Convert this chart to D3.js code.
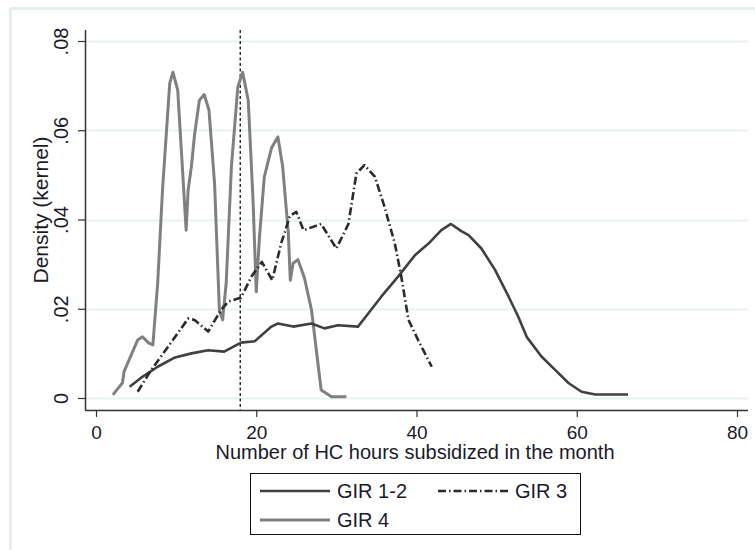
<!DOCTYPE html>
<html>
<head>
<meta charset="utf-8">
<script src="https://cdn.jsdelivr.net/npm/d3@7"></script>
<style>
  body { margin: 0; background: #fff; }
  svg { font-family: "Liberation Sans", Arial, sans-serif; }
</style>
</head>
<body>
<script>
// kernel density curves: [hours, density]
const gir12 = [
  [4.2, .0025], [5.6, .0045], [7.7, .007], [9.75, .009], [11.9, .010], [14, .0107],
  [16, .0104], [18.1, .0124], [19.8, .0127], [21.9, .016], [22.7, .0167], [24.6, .016],
  [26.9, .0167], [28.5, .0156], [30.2, .0163], [32.7, .016], [34, .019], [35.6, .0227],
  [37.7, .0272], [39.8, .032], [41.5, .0346], [43.1, .0376], [44.3, .039], [45.6, .0374],
  [46.5, .0365], [48.1, .0335], [49.8, .0287], [51.5, .0227], [52.7, .0182], [53.75, .0137],
  [55.6, .0093], [57.3, .0063], [59, .0033], [60.6, .0014], [62.3, .0008], [66.4, .0008]
];
const gir3 = [
  [5.2, .0014], [6.9, .0063], [9, .0115], [11.5, .0178], [12.3, .0175], [14, .0149],
  [15.6, .0197], [16.5, .0216], [18.1, .0225], [19.4, .0272], [20.7, .0305], [22, .0264],
  [23.1, .0346], [24.2, .0408], [25, .0417], [25.9, .0376], [28.1, .039], [30, .0335],
  [31.5, .039], [32.5, .0503], [33.5, .0522], [34.8, .0496], [36, .0429], [37.3, .0346],
  [38.1, .0272], [39, .0175], [40.2, .013], [41.9, .007]
];
const gir4 = [
  [2.1, .0007], [3.3, .0034], [3.5, .0059], [5.2, .013], [5.8, .0137], [6.6, .0123],
  [7.1, .0119], [7.7, .0258], [8.3, .0466], [9.2, .0705], [9.6, .073], [10.2, .069],
  [10.6, .057], [11.25, .0376], [11.5, .0466], [11.9, .0518], [12.3, .059], [12.9, .0667],
  [13.5, .068], [14.1, .0645], [14.8, .048], [15.4, .0197], [15.8, .0175], [16.25, .0258],
  [16.9, .0518], [17.7, .0697], [18.3, .073], [19, .0667], [19.6, .0443], [20, .0238],
  [20.4, .036], [21, .0495], [21.9, .056], [22.7, .0585], [23.3, .0518], [24, .037],
  [24.25, .0264], [24.6, .0302], [25.2, .031], [26, .027], [26.9, .0197], [27.5, .0107],
  [28.1, .0018], [29.4, .0003], [31.25, .0003]
];
const xTicks = [0, 20, 40, 60, 80];
const yTicks = [0, .02, .04, .06, .08];
const yTickLabels = ["0", ".02", ".04", ".06", ".08"];
const cutoff = 18;
const legendItems = ["GIR 1-2", "GIR 3", "GIR 4"];

const width = 755;
const height = 550;
const textColor = "#1a1a2a";

const svg = d3
  .select("body")
  .append("svg")
  .attr("width", width)
  .attr("height", height);

// outer frame (only top and left edges visible)
svg.append("line").attr("x1", 10).attr("x2", width).attr("y1", 8.5).attr("y2", 8.5)
  .attr("stroke", "#e6eeef").attr("stroke-width", 3);
svg.append("line").attr("x1", 10.5).attr("x2", 10.5).attr("y1", 8).attr("y2", height)
  .attr("stroke", "#e6eeef").attr("stroke-width", 3);

const xScale = d3.scaleLinear().domain([0, 80]).range([96, 737]);
const yScale = d3.scaleLinear().domain([0, 0.08]).range([398, 41]);

const plotLeft = 85;
const plotRight = 748;
const plotBottom = 410;
const plotTop = 30;

// gridlines
svg
  .append("g")
  .selectAll("line")
  .data(yTicks)
  .enter()
  .append("line")
  .attr("x1", plotLeft)
  .attr("x2", plotRight)
  .attr("y1", (d) => Math.round(yScale(d)) + 0.5)
  .attr("y2", (d) => Math.round(yScale(d)) + 0.5)
  .attr("stroke", "#eaf2f3")
  .attr("stroke-width", 2);

// axes
const yAxis = d3.axisLeft(yScale).tickValues(yTicks)
  .tickFormat((d, i) => yTickLabels[i]).tickSize(7).tickSizeOuter(0);
const gy = svg.append("g").attr("transform", `translate(${plotLeft},0)`).call(yAxis);
gy.select(".domain").attr("d", `M0.5,${plotTop}V${plotBottom}`).attr("stroke", "#333").attr("stroke-width", 1.5);
gy.selectAll(".tick line").attr("stroke", "#333").attr("stroke-width", 1.2);
gy.selectAll(".tick text")
  .attr("transform", "rotate(-90)")
  .attr("x", 0)
  .attr("y", -17)
  .attr("dy", 0)
  .attr("text-anchor", "middle")
  .style("font-size", "20px")
  .attr("fill", textColor);

const xAxis = d3.axisBottom(xScale).tickValues(xTicks).tickSize(7).tickSizeOuter(0);
const gx = svg.append("g").attr("transform", `translate(0,${plotBottom})`).call(xAxis);
gx.select(".domain").attr("d", `M${plotLeft},0.5H${plotRight}`).attr("stroke", "#333").attr("stroke-width", 1.5);
gx.selectAll(".tick line").attr("stroke", "#333").attr("stroke-width", 1.2);
gx.selectAll(".tick text")
  .attr("y", 29)
  .attr("dy", 0)
  .style("font-size", "19px")
  .attr("fill", textColor);

svg
  .append("text")
  .attr("x", 415)
  .attr("y", 459)
  .attr("text-anchor", "middle")
  .style("font-size", "20px")
  .attr("fill", textColor)
  .text("Number of HC hours subsidized in the month");

svg
  .append("text")
  .attr("transform", "translate(48,210) rotate(-90)")
  .attr("text-anchor", "middle")
  .style("font-size", "21px")
  .attr("fill", textColor)
  .text("Density (kernel)");

// cutoff line
svg
  .append("line")
  .attr("x1", xScale(cutoff))
  .attr("x2", xScale(cutoff))
  .attr("y1", plotTop)
  .attr("y2", plotBottom)
  .attr("stroke", "#111")
  .attr("stroke-width", 1.3)
  .attr("stroke-dasharray", "3,2.5");

const line = d3
  .line()
  .x((d) => xScale(d[0]))
  .y((d) => yScale(d[1]));

const styles = [
  { data: gir4, color: "#808080", w: 3, dash: null },
  { data: gir12, color: "#404040", w: 2.6, dash: null },
  { data: gir3, color: "#2b2b2b", w: 2.6, dash: "8,3,1.5,3" }
];

styles.forEach((s) => {
  svg
    .append("path")
    .attr("d", line(s.data))
    .attr("fill", "none")
    .attr("stroke", s.color)
    .attr("stroke-width", s.w)
    .attr("stroke-linejoin", "round")
    .attr("stroke-dasharray", s.dash);
});

// legend
svg
  .append("rect")
  .attr("x", 250.5)
  .attr("y", 473.5)
  .attr("width", 330)
  .attr("height", 61)
  .attr("fill", "#fff")
  .attr("stroke", "#111")
  .attr("stroke-width", 1);

const legendPos = [
  { x: 260, y: 491, s: styles[1] },
  { x: 438, y: 491, s: styles[2] },
  { x: 260, y: 520, s: styles[0] }
];

legendPos.forEach((p, i) => {
  svg
    .append("line")
    .attr("x1", p.x)
    .attr("x2", p.x + 70)
    .attr("y1", p.y)
    .attr("y2", p.y)
    .attr("stroke", p.s.color)
    .attr("stroke-width", p.s.w)
    .attr("stroke-dasharray", p.s.dash);
  svg
    .append("text")
    .attr("x", p.x + 77)
    .attr("y", p.y + 7)
    .style("font-size", "20px")
    .attr("fill", textColor)
    .text(legendItems[i]);
});
</script>
</body>
</html>
